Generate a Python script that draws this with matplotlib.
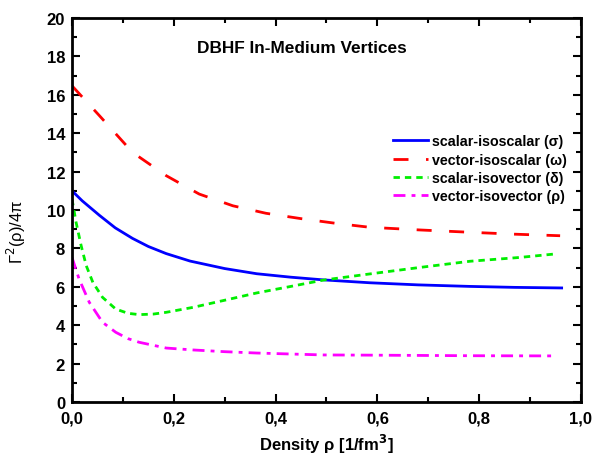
import matplotlib
matplotlib.use("Agg")
import matplotlib.pyplot as plt
from matplotlib.ticker import FuncFormatter, MultipleLocator

plt.rcParams['font.family'] = ['Liberation Sans', 'DejaVu Sans']

# Data
x_sigma = [0.0, 0.02, 0.054, 0.085, 0.119, 0.15, 0.185, 0.232, 0.3, 0.363, 0.43, 0.494, 0.585, 0.68, 0.782, 0.87, 0.962]
y_sigma = [11.0, 10.48, 9.72, 9.07, 8.52, 8.1, 7.73, 7.34, 6.95, 6.68, 6.5, 6.36, 6.21, 6.1, 6.02, 5.97, 5.94]

x_omega = [0.0, 0.054, 0.119, 0.185, 0.25, 0.316, 0.381, 0.45, 0.52, 0.585, 0.684, 0.782, 0.87, 0.959]
y_omega = [16.47, 14.91, 13.0, 11.79, 10.83, 10.22, 9.83, 9.55, 9.3, 9.1, 8.96, 8.84, 8.74, 8.66]

x_delta = [0.0, 0.008, 0.018, 0.028, 0.041, 0.06, 0.086, 0.11, 0.132, 0.16, 0.185, 0.238, 0.3, 0.363, 0.43, 0.494, 0.585, 0.684, 0.782, 0.88, 0.949]
y_delta = [10.57, 9.36, 8.14, 7.1, 6.23, 5.45, 4.84, 4.62, 4.55, 4.58, 4.67, 4.93, 5.3, 5.68, 6.02, 6.35, 6.67, 7.01, 7.33, 7.53, 7.71]

x_rho = [0.0, 0.014, 0.034, 0.06, 0.086, 0.11, 0.132, 0.185, 0.238, 0.3, 0.363, 0.494, 0.585, 0.782, 0.949]
y_rho = [7.53, 6.4, 5.19, 4.15, 3.63, 3.3, 3.11, 2.81, 2.71, 2.62, 2.55, 2.45, 2.44, 2.41, 2.4]

labels = ['scalar-isoscalar (σ)', 'vector-isoscalar (ω)',
          'scalar-isovector (δ)', 'vector-isovector (ρ)']
title = 'DBHF In-Medium Vertices'

fig = plt.figure(figsize=(6.05, 4.64), dpi=100)
ax = fig.add_axes([0.119, 0.1315, 0.8413, 0.8275])

lw = 2.0
ax.plot(x_sigma, y_sigma, color='#0000ff', lw=lw, ls='-', label=labels[0])
ax.plot(x_omega, y_omega, color='#ff0000', lw=lw, ls=(0, (5.4, 6.3)), label=labels[1])
ax.plot(x_delta, y_delta, color='#00ee00', lw=lw, ls=(0, (2.3, 1.8)), label=labels[2])
ax.plot(x_rho, y_rho, color='#ff00ff', lw=lw, ls=(0, (4.3, 2.2, 1.4, 2.2)), label=labels[3])

ax.set_xlim(0, 1.0)
ax.set_ylim(0, 20)
ax.xaxis.set_major_locator(MultipleLocator(0.2))
ax.xaxis.set_minor_locator(MultipleLocator(0.1))
ax.yaxis.set_major_locator(MultipleLocator(2))
ax.yaxis.set_minor_locator(MultipleLocator(1))
ax.xaxis.set_major_formatter(FuncFormatter(lambda v, p: f'{v:.1f}'.replace('.', ',')))
ax.yaxis.set_major_formatter(FuncFormatter(lambda v, p: f'{int(round(v))}'))

ax.tick_params(which='both', direction='in', top=True, right=True, width=1.5)
ax.tick_params(which='major', length=6, labelsize=12)
ax.tick_params(which='minor', length=3.5)
ax.tick_params(axis='x', pad=6)
ax.tick_params(axis='y', pad=5)
for lab in ax.get_xticklabels() + ax.get_yticklabels():
    lab.set_fontweight('bold')
for s in ax.spines.values():
    s.set_linewidth(2)

ax.set_xlabel('Density ρ [1/fm$^\\mathbf{3}$]', fontsize=12, fontweight='bold', labelpad=5)
ax.set_ylabel('Γ$^2$(ρ)/4π', fontsize=12)
ax.yaxis.set_label_coords(-0.086, 0.445)

ax.text(0.452, 0.923, title, transform=ax.transAxes, ha='center', va='center',
        fontsize=12.4, fontweight='bold')

leg = ax.legend(loc='upper right', bbox_to_anchor=(0.9725, 0.697), frameon=False,
                prop={'weight': 'bold', 'size': 10.3}, handlelength=2.45,
                handletextpad=0.3, labelspacing=0.3, borderaxespad=0.0, borderpad=0.0)

fig.savefig('out.png', dpi=100)
